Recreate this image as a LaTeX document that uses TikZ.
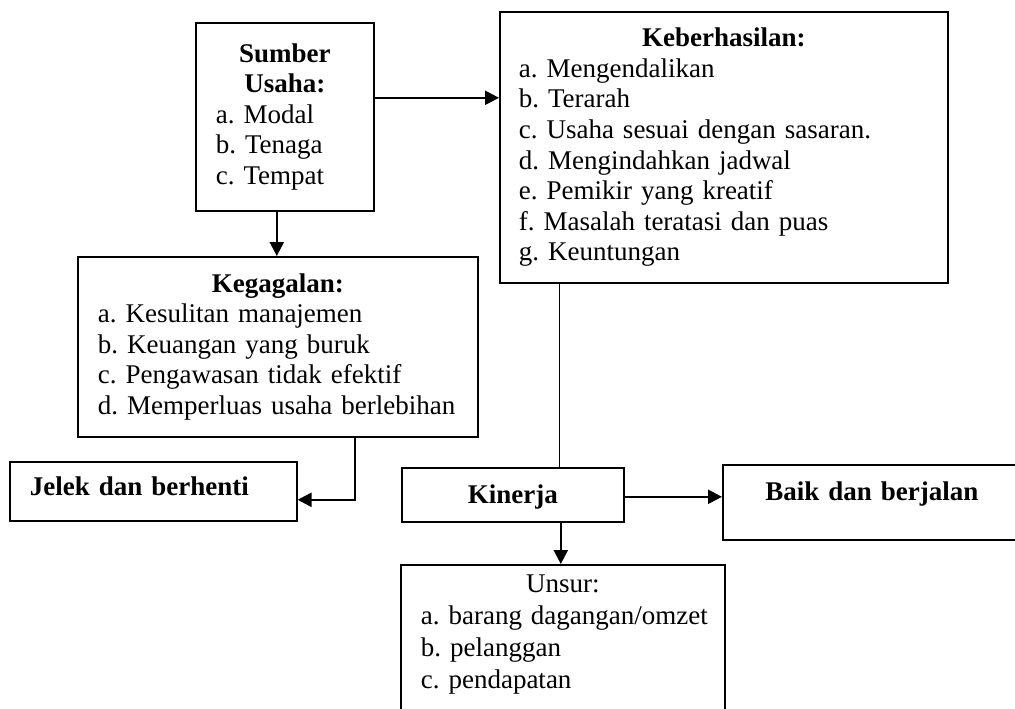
\documentclass[tikz,border=0pt]{standalone}
\usepackage{fontspec}
\setmainfont{Liberation Serif}
\usetikzlibrary{arrows.meta}
\newcommand{\boxhead}[1]{\makebox[\linewidth]{\textbf{#1}}}
\frenchspacing

\begin{document}
\begin{tikzpicture}[x=1pt,y=-1pt,>={Triangle[length=14pt,width=14pt]},
  font=\fontsize{27}{30.6}\selectfont,
  box/.style={draw,line width=1.6pt,anchor=north west,inner ysep=0pt,inner xsep=20pt,align=left},
  arr/.style={->,line width=2.4pt}]
\useasboundingbox (0,0) rectangle (1015,709);
% boxes
\node[box,text width=138pt,minimum height=188pt] (sumber) at (195,22)
  {\boxhead{Sumber}\\\boxhead{Usaha:}\\a. Modal\\b. Tenaga\\c. Tempat};
\node[box,inner xsep=19pt,text width=410pt,minimum height=271pt] (keber) at (499,11)
  {\boxhead{Keberhasilan:}\\a. Mengendalikan\\b. Terarah\\c. Usaha sesuai dengan sasaran.\\d. Mengindahkan jadwal\\e. Pemikir yang kreatif\\f. Masalah teratasi dan puas\\g. Keuntungan};
\node[box,text width=360pt,minimum height=180pt] (kegag) at (77,256)
  {\boxhead{Kegagalan:}\\a. Kesulitan manajemen\\b. Keuangan yang buruk\\c. Pengawasan tidak efektif\\d. Memperluas usaha berlebihan};
\node[box,text width=247pt,minimum height=59pt,text height=34pt,text depth=25pt] (jelek) at (9,461)
  {\textbf{Jelek dan berhenti}};
\node[box,align=center,text width=182pt,minimum height=54pt,text height=36pt,text depth=18pt] (kinerja) at (401,467)
  {\textbf{Kinerja}};
\node[box,align=center,text width=258pt,minimum height=75pt,text height=36pt,text depth=39pt] (baik) at (722,464)
  {\textbf{Baik dan berjalan}};
\node[box,minimum width=324pt,minimum height=200pt] (unsur) at (400,564) {};
\node[anchor=north,inner sep=0pt,text width=284pt,align=left,font=\fontsize{27}{32}\selectfont] (unsurlist)
  at ([yshift=-11pt]unsur.north)
  {\makebox[\linewidth]{Unsur:}\\\mbox{a. barang dagangan/omzet}\\b. pelanggan\\c. pendapatan};
% connectors
\draw[arr] ([yshift=19pt]sumber.east) -- ([yshift=19pt]sumber.east -| keber.west);
\draw[arr] ([xshift=-8pt]sumber.south) -- ([xshift=-8pt]sumber.south |- kegag.north);
\draw[arr] ([xshift=77pt]kegag.south) |- ([yshift=-8.5pt]jelek.east);
\draw[line width=1.2pt] ([xshift=-164pt]keber.south) -- ([xshift=-164pt]keber.south |- kinerja.north);
\draw[arr] ([yshift=-2pt]kinerja.east) -- ([yshift=-2pt]kinerja.east -| baik.west);
\draw[arr] ([xshift=48pt]kinerja.south) -- ([xshift=48pt]kinerja.south |- unsur.north);
\end{tikzpicture}
\end{document}
